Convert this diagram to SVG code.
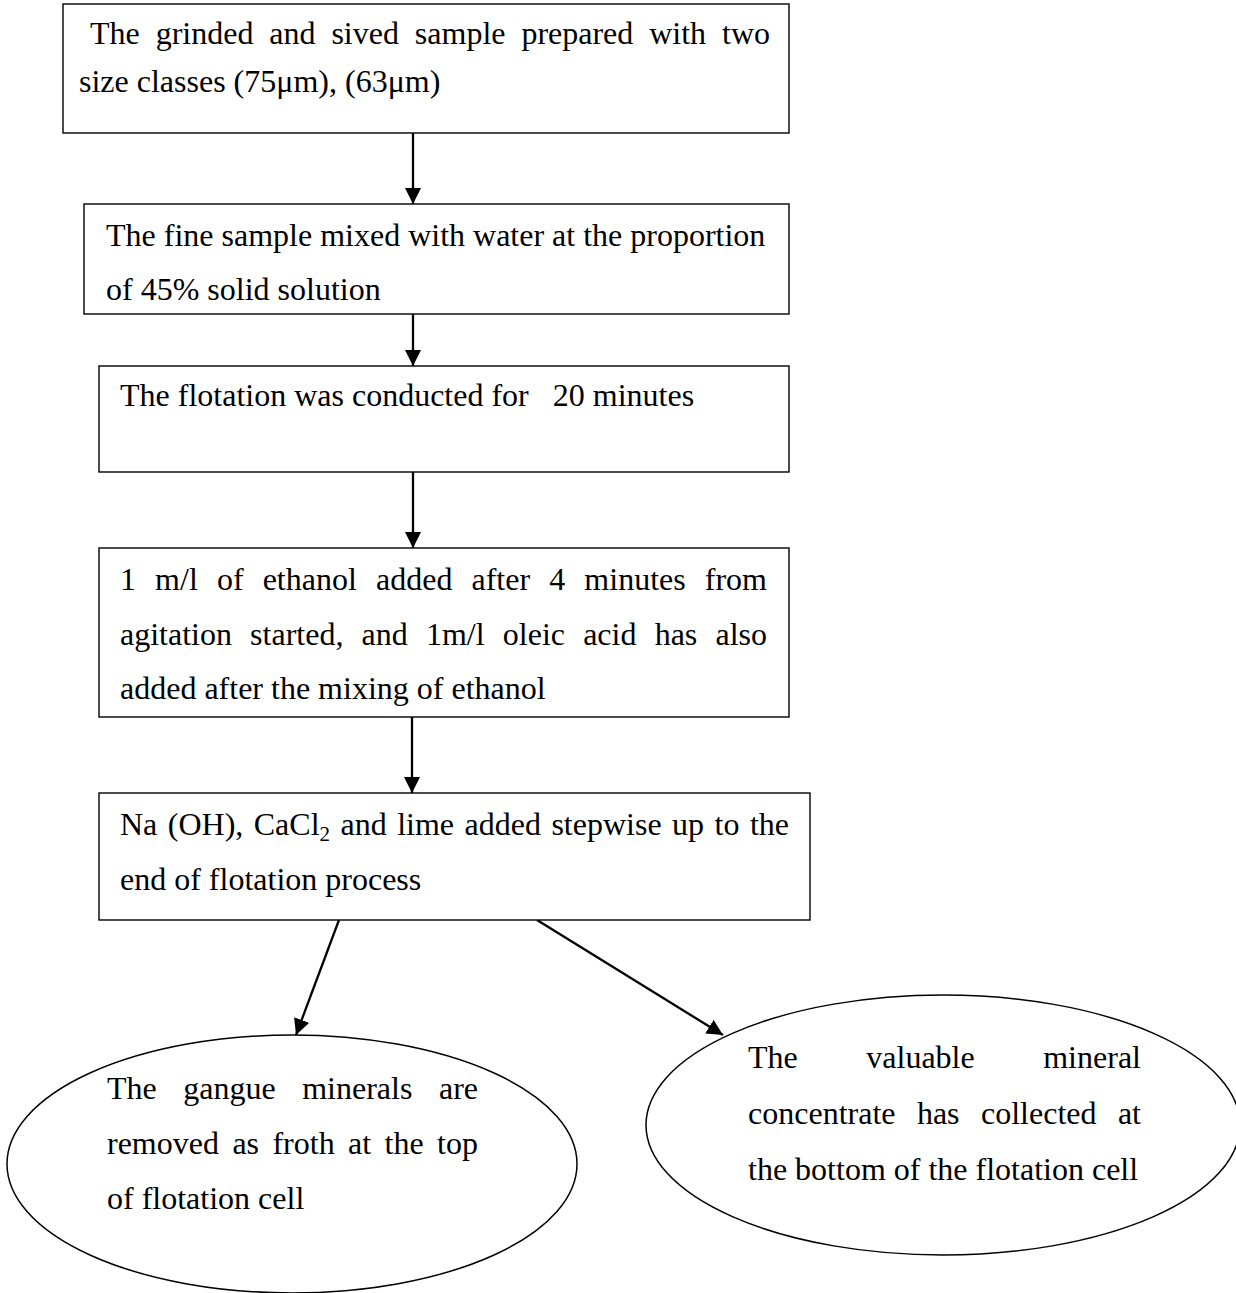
<svg xmlns="http://www.w3.org/2000/svg" width="1236" height="1293" viewBox="0 0 1236 1293">
<defs>
<marker id="ah" viewBox="0 0 16 16" markerWidth="16" markerHeight="16" refX="16" refY="8" orient="auto" markerUnits="userSpaceOnUse">
<path d="M0,0 L16,8 L0,16 Z" fill="#000"/>
</marker>
</defs>
<style>
.box{fill:#fff;stroke:#000;stroke-width:1.4}
.ell{fill:#fff;stroke:#000;stroke-width:1.5}
.t{font-family:"Liberation Serif","Times New Roman",serif;font-size:32px;fill:#000}
.c{stroke:#000;stroke-width:2.3;fill:none;marker-end:url(#ah)}
</style>
<rect width="1236" height="1293" fill="#fff"/>
<g id="connectors">
<line class="c" x1="413" y1="133" x2="413" y2="204"/>
<line class="c" x1="413" y1="314" x2="413" y2="366"/>
<line class="c" x1="413" y1="472" x2="413" y2="548"/>
<line class="c" x1="412" y1="717" x2="412" y2="793"/>
<line class="c" x1="339" y1="920" x2="296" y2="1035"/>
<line class="c" x1="537" y1="920" x2="723" y2="1035"/>
</g>
<g id="node1">
<rect class="box" x="63" y="4" width="726" height="129"/>
<text class="t" x="90" y="44" word-spacing="7.9" textLength="680" lengthAdjust="spacing">The grinded and sived sample prepared with two</text>
<text class="t" x="79" y="92">size classes (75μm), (63μm)</text>
</g>
<g id="node2">
<rect class="box" x="84" y="204" width="705" height="110"/>
<text class="t" x="106" y="246">The fine sample mixed with water at the proportion</text>
<text class="t" x="106" y="300">of 45% solid solution</text>
</g>
<g id="node3">
<rect class="box" x="99" y="366" width="690" height="106"/>
<text class="t" x="120" y="406" xml:space="preserve">The flotation was conducted for   20 minutes</text>
</g>
<g id="node4">
<rect class="box" x="99" y="548" width="690" height="169"/>
<text class="t" x="120" y="590" word-spacing="11.1" textLength="647" lengthAdjust="spacing">1 m/l of ethanol added after 4 minutes from</text>
<text class="t" x="120" y="645" word-spacing="10.2" textLength="647" lengthAdjust="spacing">agitation started, and 1m/l oleic acid has also</text>
<text class="t" x="120" y="699">added after the mixing of ethanol</text>
</g>
<g id="node5">
<rect class="box" x="99" y="793" width="711" height="127"/>
<text class="t" x="120" y="835" word-spacing="2.5" textLength="669" lengthAdjust="spacing">Na (OH), CaCl<tspan font-size="21" dy="6">2</tspan><tspan dy="-6"> and lime added stepwise up to the</tspan></text>
<text class="t" x="120" y="890">end of flotation process</text>
</g>
<g id="node6">
<ellipse class="ell" cx="292" cy="1164" rx="285" ry="129"/>
<text class="t" x="107" y="1099" word-spacing="18.5" textLength="371" lengthAdjust="spacing">The gangue minerals are</text>
<text class="t" x="107" y="1154" word-spacing="5.4" textLength="371" lengthAdjust="spacing">removed as froth at the top</text>
<text class="t" x="107" y="1209">of flotation cell</text>
</g>
<g id="node7">
<ellipse class="ell" cx="943" cy="1125" rx="297" ry="130"/>
<text class="t" x="748" y="1068" word-spacing="60.5" textLength="393" lengthAdjust="spacing">The valuable mineral</text>
<text class="t" x="748" y="1124" word-spacing="13.4" textLength="393" lengthAdjust="spacing">concentrate has collected at</text>
<text class="t" x="748" y="1180">the bottom of the flotation cell</text>
</g>
</svg>
